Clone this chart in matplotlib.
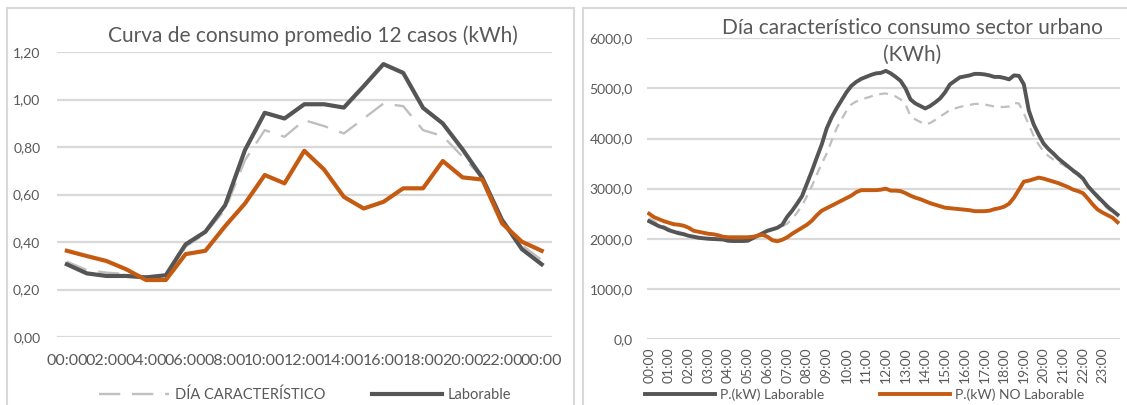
import numpy as np
import matplotlib
matplotlib.use("Agg")
import matplotlib.pyplot as plt
from matplotlib.patches import Rectangle
from matplotlib.ticker import FuncFormatter

plt.rcParams['font.family'] = ['Lato', 'DejaVu Sans']

GRAY = '#595959'
DARK = '#555555'
ORANGE = '#c55a11'
LIGHT = '#bfbfbf'
GRID = '#d9d9d9'

# ---- left chart: hourly average of 12 cases (kWh)
hours_left = ['%02d:00' % h for h in range(24)] + ['00:00']
dia_left = [0.317, 0.282, 0.271, 0.265, 0.254, 0.257, 0.380, 0.436, 0.537, 0.744,
            0.871, 0.843, 0.913, 0.888, 0.857, 0.920, 0.983, 0.972, 0.871, 0.846,
            0.759, 0.670, 0.499, 0.387, 0.324]
lab_left = [0.306, 0.268, 0.257, 0.257, 0.251, 0.260, 0.390, 0.443, 0.555, 0.787,
            0.944, 0.920, 0.980, 0.980, 0.966, 1.056, 1.149, 1.112, 0.965, 0.899,
            0.790, 0.670, 0.492, 0.370, 0.306]
nolab_left = [0.363, 0.341, 0.320, 0.285, 0.240, 0.240, 0.349, 0.363, 0.467, 0.562,
              0.682, 0.647, 0.784, 0.705, 0.590, 0.541, 0.569, 0.626, 0.626, 0.741,
              0.672, 0.663, 0.478, 0.401, 0.363]

# ---- right chart: urban sector, 15 min steps (kW)
hours_right = ['%02d:00' % h for h in range(24)]
lab_right = [2350, 2300, 2250, 2220, 2170, 2140, 2110, 2090,
             2060, 2040, 2020, 2010, 2000, 1995, 1990, 1985,
             1960, 1955, 1955, 1955, 1960, 2010, 2060, 2110,
             2160, 2190, 2220, 2280, 2440, 2560, 2700, 2850,
             3100, 3350, 3620, 3880, 4200, 4420, 4600, 4760,
             4920, 5050, 5130, 5190, 5230, 5270, 5300, 5310,
             5350, 5300, 5230, 5150, 5000, 4780, 4700, 4650,
             4600, 4650, 4720, 4800, 4920, 5080, 5150, 5220,
             5240, 5260, 5290, 5290, 5280, 5260, 5230, 5230,
             5210, 5180, 5260, 5250, 5080, 4560, 4280, 4080,
             3900, 3790, 3700, 3600, 3520, 3440, 3360, 3290,
             3200, 3050, 2940, 2840, 2740, 2640, 2560, 2480]
dia_right = [2410, 2350, 2290, 2250, 2200, 2170, 2140, 2110,
             2080, 2060, 2040, 2030, 2020, 2010, 2000, 1995,
             1990, 1985, 1985, 1990, 1995, 2030, 2060, 2100,
             2140, 2170, 2200, 2250, 2300, 2400, 2520, 2660,
             2850, 3050, 3280, 3500, 3700, 3950, 4200, 4380,
             4550, 4680, 4740, 4770, 4810, 4840, 4870, 4890,
             4900, 4870, 4840, 4780, 4680, 4450, 4380, 4330,
             4280, 4310, 4370, 4440, 4500, 4570, 4600, 4630,
             4650, 4670, 4690, 4690, 4680, 4660, 4640, 4630,
             4630, 4640, 4710, 4700, 4500, 4280, 4050, 3880,
             3740, 3650, 3580, 3520, 3480, 3400, 3330, 3260,
             3180, 3040, 2920, 2800, 2700, 2600, 2530, 2480]
nolab_right = [2500, 2430, 2390, 2350, 2320, 2290, 2280, 2260,
               2220, 2160, 2140, 2120, 2100, 2090, 2070, 2040,
               2030, 2030, 2030, 2030, 2030, 2040, 2060, 2080,
               2040, 1970, 1950, 1980, 2030, 2100, 2160, 2220,
               2280, 2360, 2470, 2560, 2610, 2660, 2710, 2760,
               2810, 2860, 2930, 2970, 2970, 2970, 2970, 2980,
               3000, 2960, 2960, 2950, 2910, 2860, 2820, 2790,
               2750, 2710, 2680, 2650, 2620, 2610, 2600, 2590,
               2580, 2570, 2550, 2550, 2550, 2560, 2590, 2610,
               2640, 2700, 2820, 2980, 3140, 3160, 3190, 3220,
               3200, 3170, 3140, 3110, 3070, 3030, 2980, 2950,
               2910, 2800, 2680, 2580, 2520, 2470, 2420, 2330]

fig = plt.figure(figsize=(11.27, 4.05), dpi=100)
W, H = 1127.0, 405.0

# panel frames
fig.patches.append(Rectangle((7 / W, -0.05), (574 - 7) / W, 1 - 8 / H + 0.05,
                             transform=fig.transFigure, fill=False,
                             edgecolor=GRID, lw=1.5))
fig.patches.append(Rectangle((583 / W, -0.05), 0.5, 1 - 8 / H + 0.05,
                             transform=fig.transFigure, fill=False,
                             edgecolor=GRID, lw=1.5))


def style(ax):
    for s in ax.spines.values():
        s.set_visible(False)
    ax.grid(axis='y', color=GRID, lw=1.6)
    ax.set_axisbelow(True)
    ax.tick_params(length=0, colors=GRAY, labelsize=10)


# left
ax1 = fig.add_axes([57 / W, 68 / H, 494.6 / W, 285 / H])
style(ax1)
x1 = np.arange(len(hours_left))
ax1.plot(x1, dia_left, color=LIGHT, lw=1.7, dashes=(9, 5), label='DÍA CARACTERÍSTICO', zorder=2)
ax1.plot(x1, lab_left, color=DARK, lw=3.0, label='Laborable', zorder=3)
ax1.plot(x1, nolab_left, color=ORANGE, lw=3.0, zorder=4)
ax1.set_xlim(-0.5, 24.5)
ax1.set_ylim(0, 1.2)
ax1.set_yticks(np.arange(0, 1.21, 0.2))
ax1.yaxis.set_major_formatter(FuncFormatter(lambda v, p: ('%.2f' % v).replace('.', ',')))
ax1.set_xticks(x1[::2])
ax1.set_xticklabels(hours_left[::2])
ax1.tick_params(axis='y', pad=12)
ax1.tick_params(axis='x', pad=12, labelsize=11.5)
fig.text(313 / W, 1 - 36 / H, 'Curva de consumo promedio 12 casos (kWh)',
         ha='center', va='center', fontsize=15, color=GRAY)
ax1.legend(loc='center', bbox_to_anchor=(305 / W, 10 / H), bbox_transform=fig.transFigure,
           ncol=2, frameon=False, handlelength=4.8, handletextpad=0.4, columnspacing=3.2,
           fontsize=10.5, labelcolor=GRAY)

# right
ax2 = fig.add_axes([646.7 / W, 66 / H, 473.3 / W, 300.7 / H])
style(ax2)
x2 = np.arange(len(lab_right))
ax2.plot(x2, dia_right, color=LIGHT, lw=1.6, dashes=(4, 3), zorder=2)
ax2.plot(x2, lab_right, color=DARK, lw=2.8, label='P.(kW) Laborable', zorder=3)
ax2.plot(x2, nolab_right, color=ORANGE, lw=2.8, label='P.(kW) NO Laborable', zorder=4)
ax2.set_xlim(-0.5, 95.5)
ax2.set_ylim(0, 6000)
ax2.set_yticks(np.arange(0, 6001, 1000))
ax2.yaxis.set_major_formatter(FuncFormatter(lambda v, p: ('%.1f' % v).replace('.', ',')))
ax2.set_xticks(x2[::4])
ax2.set_xticklabels(hours_right, rotation=90)
ax2.tick_params(axis='y', pad=10)
ax2.tick_params(axis='x', pad=6)
fig.text(912 / W, 1 - 28 / H, 'Día característico consumo sector urbano',
         ha='center', va='center', fontsize=15, color=GRAY)
fig.text(912 / W, 1 - 55 / H, '(KWh)', ha='center', va='center', fontsize=15, color=GRAY)
ax2.legend(loc='center', bbox_to_anchor=(865 / W, 10 / H), bbox_transform=fig.transFigure,
           ncol=2, frameon=False, handlelength=5, handletextpad=0.4, columnspacing=4,
           fontsize=10, labelcolor=GRAY)

fig.savefig('out.png', dpi=100)
